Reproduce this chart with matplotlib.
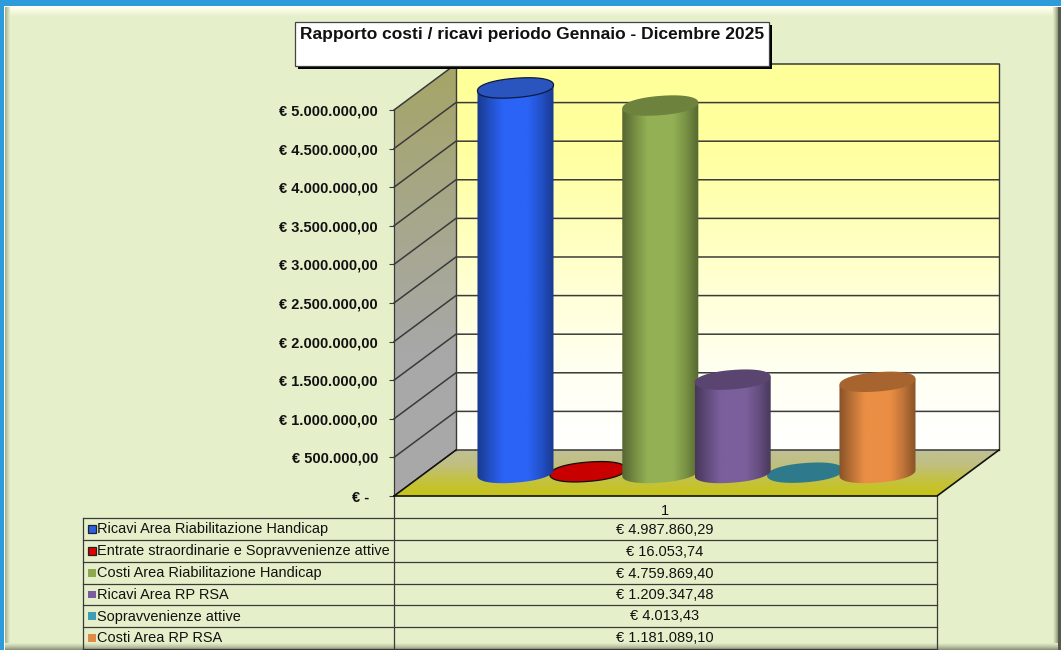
import matplotlib
matplotlib.use('Agg')
import matplotlib.pyplot as plt
import numpy as np
from matplotlib.patches import Polygon, Rectangle

plt.rcParams['font.family'] = ['Liberation Sans', 'DejaVu Sans']

title = 'Rapporto costi / ricavi periodo Gennaio - Dicembre 2025'
series_names = ['Ricavi Area Riabilitazione Handicap',
                'Entrate straordinarie e Sopravvenienze attive',
                'Costi Area Riabilitazione Handicap',
                'Ricavi Area RP RSA',
                'Sopravvenienze attive',
                'Costi Area RP RSA']
series_values = [4987860.29, 16053.74, 4759869.40, 1209347.48, 4013.43, 1181089.10]
y_ticks = [0, 500000, 1000000, 1500000, 2000000, 2500000,
           3000000, 3500000, 4000000, 4500000, 5000000]
category = '1'

side_colors = ['#2B63F6', '#D40000', '#93B154', '#7B5F9C', '#3A93AE', '#EA8E44']
top_colors = ['#2A55BE', '#C80000', '#6C823D', '#5A4570', '#2E7A8C', '#A8642E']
key_colors = ['#2B5FE8', '#E00000', '#8FA850', '#7A5C9E', '#3F9DB8', '#E08A48']

BG = '#E5F0CB'
LINE = '#3A3A3A'

# projection of the 3d box, in data units of the front plane
DEPTH_X = 0.856
DEPTH_Y = 596000
RAD_X = 0.525
RAD_Y = 125000
TILT = 38000


def money(v):
    s = '{:,.2f}'.format(v).replace(',', 'X').replace('.', ',').replace('X', '.')
    return '€ ' + s


def gradient(ax, fig, colors, extent, clip=None, horizontal=False, zorder=1):
    """Paint a linear colour ramp, optionally clipped to a patch."""
    cols = np.array([matplotlib.colors.to_rgb(c) for c in colors])
    t = np.linspace(0, 1, 128)
    stops = np.linspace(0, 1, len(cols))
    ramp = np.stack([np.interp(t, stops, cols[:, k]) for k in range(3)], axis=-1)
    img = ramp[np.newaxis, :, :] if horizontal else ramp[:, np.newaxis, :]
    im = ax.imshow(img, extent=extent, aspect='auto', origin='upper',
                   interpolation='bilinear', zorder=zorder)
    im.set_clip_box(fig.bbox)
    if clip is not None:
        ax.add_patch(clip)
        clip.set_visible(False)
        im.set_clip_path(clip)
    return im


def shade(color, f):
    return tuple(np.array(matplotlib.colors.to_rgb(color)) * f)


def rim(t):
    # a little fuller than a true ellipse, like the original render
    c = np.sign(np.cos(t)) * np.abs(np.cos(t)) ** 0.92
    s = np.sign(np.sin(t)) * np.abs(np.sin(t)) ** 0.92
    return RAD_X * c, RAD_Y * s + TILT * c


def cylinder(ax, fig, x, value, side, top, zorder):
    y0 = DEPTH_Y / 2
    cx = x + DEPTH_X / 2
    ex, ey = rim(np.linspace(0, 2 * np.pi, 160))
    if value > 100000:
        lx, ly = rim(np.linspace(np.pi, 2 * np.pi, 80))
        body = np.vstack([np.column_stack([cx + lx, y0 + ly]),
                          [[cx + RAD_X, y0 + value + TILT]],
                          [[cx - RAD_X, y0 + value - TILT]]])
        clip = Polygon(body, transform=ax.transData)
        gradient(ax, fig, [shade(side, .58), shade(side, .8), side, side, side,
                           shade(side, .82), shade(side, .58)],
                 (cx - RAD_X, cx + RAD_X, y0 - 2 * RAD_Y, y0 + value + 2 * RAD_Y),
                 clip=clip, horizontal=True, zorder=zorder)
    edge = 'none'
    if side == '#D40000':
        edge = '#101010'
    if value > 4900000:
        edge = '#101a40'
    ax.add_patch(Polygon(np.column_stack([cx + ex, y0 + value + ey]), closed=True,
                         facecolor=top, edgecolor=edge, lw=0.9, zorder=zorder + 0.1,
                         clip_on=False))


fig = plt.figure(figsize=(10.61, 6.5), dpi=100)

# window frame and data table, in pixels
bg = fig.add_axes([0, 0, 1, 1], zorder=0)
bg.axis('off')
bg.add_patch(Rectangle((0, 0), 1061, 650, fc='#2E9BDB', ec='none', zorder=0))
bg.add_patch(Rectangle((4, 6), 1057, 644, fc='#FFFFFF', ec='none', zorder=0.1))
bg.add_patch(Rectangle((5, 8), 1056, 642, fc=BG, ec='none', zorder=0.2))
gradient(bg, fig, ['#FFFFF0', '#F6F9DF', BG], (5, 1058, 16, 7), zorder=0.3)
gradient(bg, fig, ['#A3AB8C', '#C4CEAB', BG], (5, 10, 650, 7), horizontal=True, zorder=0.4)
gradient(bg, fig, [BG, '#BEC8A5', '#8D9379'], (1053, 1058, 650, 7), horizontal=True, zorder=0.5)
gradient(bg, fig, [BG, '#BEC8A5', '#868C72'], (5, 1058, 650, 643), zorder=0.6)
bg.add_patch(Rectangle((1058, 7), 3, 643, fc='#555A4C', ec='none', zorder=0.7))

row_y = [518, 540, 562, 584, 605, 627, 649]
for y in row_y:
    bg.plot([83, 937], [y, y], color=LINE, lw=0.9)
bg.plot([83, 83], [518, 649], color=LINE, lw=0.9)
bg.plot([394, 394], [496, 649], color=LINE, lw=0.9)
bg.plot([937, 937], [496, 649], color=LINE, lw=0.9)
bg.text(665, 511, category, ha='center', va='center', fontsize=10.5, color='#111111')
for i, name in enumerate(series_names):
    yc = (row_y[i] + row_y[i + 1]) / 2
    bg.add_patch(Rectangle((88, yc - 4), 7.5, 7.5, fc=key_colors[i],
                           ec='#222222' if i < 2 else 'none', lw=0.9, zorder=2))
    bg.text(97, yc + 0.5, name, ha='left', va='center', fontsize=10.45, color='#111111')
    bg.text(665, yc + 0.5, money(series_values[i]), ha='center', va='center',
            fontsize=10.5, color='#111111')
bg.set_xlim(0, 1061)
bg.set_ylim(650, 0)

# chart, front plane of the 3d box
ax = fig.add_axes([394 / 1061, 1 - 496 / 650, 543 / 1061, 386 / 650], zorder=1)
ax.patch.set_visible(False)
for s in ax.spines.values():
    s.set_visible(False)

xmin, xmax = -0.75, 6.75
ymax = y_ticks[-1]

gradient(ax, fig, ['#FFFF99', '#FFFF9E', '#FFFFB8', '#FFFFD8', '#FFFFF2', '#FFFFFF'],
         (xmin + DEPTH_X, xmax + DEPTH_X, DEPTH_Y, ymax + DEPTH_Y), zorder=1)
wall = Polygon([[xmin, 0], [xmin, ymax], [xmin + DEPTH_X, ymax + DEPTH_Y],
                [xmin + DEPTH_X, DEPTH_Y]], transform=ax.transData)
gradient(ax, fig, ['#A5A566', '#A7A78A', '#A8A8A8', '#A8A8A8'],
         (xmin, xmin + DEPTH_X, 0, ymax + DEPTH_Y), clip=wall, zorder=1)
floor = Polygon([[xmin, 0], [xmax, 0], [xmax + DEPTH_X, DEPTH_Y],
                 [xmin + DEPTH_X, DEPTH_Y]], transform=ax.transData)
gradient(ax, fig, ['#C0C096', '#C0BF80', '#C4C240', '#C7C414'],
         (xmin, xmax + DEPTH_X, 0, DEPTH_Y), clip=floor, zorder=1)

for v in y_ticks:
    ax.plot([xmin, xmin + DEPTH_X, xmax + DEPTH_X], [v, v + DEPTH_Y, v + DEPTH_Y],
            color=LINE, lw=1.1, zorder=2, clip_on=False)
ax.plot([xmin, xmin], [0, ymax], color=LINE, lw=0.9, zorder=2, clip_on=False)
ax.plot([xmin + DEPTH_X, xmin + DEPTH_X], [DEPTH_Y, ymax + DEPTH_Y], color=LINE, lw=1, zorder=2, clip_on=False)
ax.plot([xmax + DEPTH_X, xmax + DEPTH_X], [DEPTH_Y, ymax + DEPTH_Y], color=LINE, lw=1, zorder=2, clip_on=False)
ax.plot([xmin, xmax, xmax + DEPTH_X], [0, 0, DEPTH_Y], color='#111111', lw=1.2, zorder=2, clip_on=False)
ax.plot([xmin, xmin + DEPTH_X], [0, DEPTH_Y], color='#111111', lw=1, zorder=2, clip_on=False)

# small values sit under the neighbouring cylinders
for i, v in enumerate(series_values):
    z = 3 + i if v < 100000 else 10 + i
    cylinder(ax, fig, i + 0.5, v, side_colors[i], top_colors[i], z)

ax.set_xlim(xmin, xmax)
ax.set_ylim(0, ymax)
ax.set_xticks([])
ax.set_yticks(y_ticks)
ax.set_yticklabels(['€ -  ' if v == 0 else money(v) for v in y_ticks],
                   fontsize=10.5, fontweight='bold', color='#111111')
ax.tick_params(axis='y', length=3.6, width=0.8, color=LINE, pad=8)

# title box goes over the plot
top = fig.add_axes([0, 0, 1, 1], zorder=2)
top.set_xlim(0, 1061)
top.set_ylim(650, 0)
top.axis('off')
top.add_patch(Rectangle((298, 25), 474, 44, fc='#000000', ec='none'))
top.add_patch(Rectangle((294.5, 22), 474, 44, fc='#FFFFFF', ec='#444444', lw=0.9))
top.text(299.5, 34, title, ha='left', va='center', fontsize=12.55, fontweight='bold',
         color='#111111')

fig.savefig('out.png', dpi=100)
